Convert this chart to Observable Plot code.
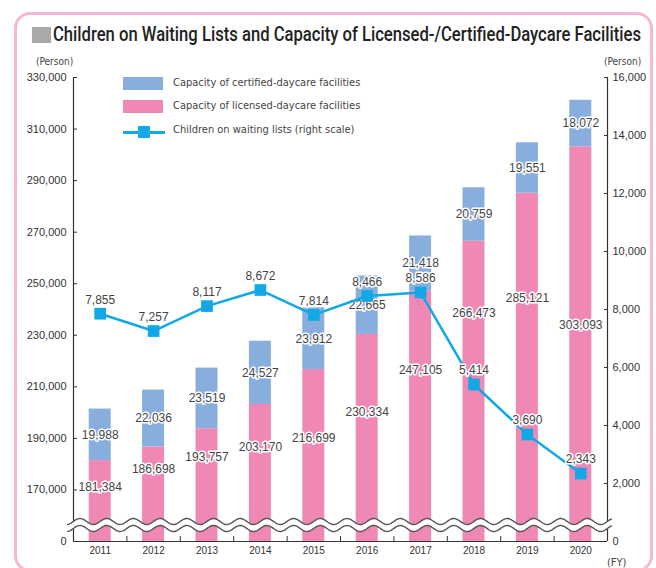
<!DOCTYPE html>
<html>
<head>
<meta charset="utf-8">
<script src="https://cdn.jsdelivr.net/npm/d3@7"></script>
<script src="https://cdn.jsdelivr.net/npm/@observablehq/plot@0.6"></script>
<style>
  body { margin: 0; background: #fff; }
  #wrap { position: relative; width: 656px; height: 568px; overflow: hidden; background: #fff;
          font-family: "Liberation Sans Narrow", "Arial Narrow", "DejaVu Sans Condensed", sans-serif; color: #333; }
  #chart { position: absolute; left: 0; top: 0; }
  #frame { position: absolute; left: 14px; top: 12px; width: 639px; height: 560px; border: 3px solid #f6b8d5;
           border-radius: 16px; box-sizing: border-box; pointer-events: none; }
  #sq { position: absolute; left: 32px; top: 27px; width: 19px; height: 16px; background: #a9a9ab; }
  #title { position: absolute; left: 53px; top: 22px; font-size: 21px; line-height: 24px; color: #222; white-space: nowrap;
           font-family: Roboto, "DejaVu Sans Condensed", sans-serif; font-weight: 500; transform-origin: 0 0; }
  .unit { position: absolute; font-size: 10px; color: #444; white-space: nowrap; }
  .leg { position: absolute; font-size: 11px; color: #444; white-space: nowrap; }
  .sw { position: absolute; }
</style>
</head>
<body>
<div id="wrap">
  <div id="chart"></div>
  <div id="sq"></div>
  <div id="title">Children on Waiting Lists and Capacity of Licensed-/Certified-Daycare Facilities</div>
  <div class="unit" style="left:36px;top:56px;">(Person)</div>
  <div class="unit" style="left:604px;top:56px;">(Person)</div>
  <div class="unit" style="left:607px;top:556px;font-size:11px;">(FY)</div>

  <div class="sw" style="left:123px;top:77px;width:40px;height:13px;background:#87aedd;"></div>
  <div class="leg" style="left:173px;top:76px;">Capacity of certified-daycare facilities</div>
  <div class="sw" style="left:123px;top:100px;width:40px;height:13px;background:#f088b5;"></div>
  <div class="leg" style="left:173px;top:99px;">Capacity of licensed-daycare facilities</div>
  <div class="sw" style="left:123px;top:131px;width:42px;height:2.5px;background:#12a8e6;"></div>
  <div class="sw" style="left:138px;top:126px;width:12px;height:12px;background:#12a8e6;"></div>
  <div class="leg" style="left:173px;top:123px;">Children on waiting lists (right scale)</div>

  <div id="frame"></div>
</div>
<script>
const years = [2011, 2012, 2013, 2014, 2015, 2016, 2017, 2018, 2019, 2020];
const licensed = [181384, 186698, 193757, 203170, 216699, 230334, 247105, 266473, 285121, 303093];
const certified = [19988, 22036, 23519, 24527, 23912, 22665, 21418, 20759, 19551, 18072];
const waiting = [7855, 7257, 8117, 8672, 7814, 8466, 8586, 5414, 3690, 2343];
const leftTickLabels = [0, 170000, 190000, 210000, 230000, 250000, 270000, 290000, 310000, 330000];
const rightTickLabels = [0, 2000, 4000, 6000, 8000, 10000, 12000, 14000, 16000];

// fit the condensed title to the reference width
const title = document.getElementById("title");
const tw = title.getBoundingClientRect().width;
title.style.transform = `scaleX(${588 / tw})`;

const W = 656, H = 568, mL = 73, mR = 49, mT = 77, mB = 27;
const BASE = 150000, TOP = 330000;          // broken left axis: "0" sits one step below 170,000
const K = (TOP - BASE) / 16000;            // right scale (0–16,000) onto left scale
const unitsPerPx = (TOP - BASE) / (H - mT - mB);
const fmt = d3.format(",");

const rows = years.map((year, i) => ({
  year, lic: licensed[i], cert: certified[i], top: licensed[i] + certified[i],
  wait: waiting[i], waitY: BASE + waiting[i] * K
}));

// hand placement nudges (px) of licensed labels, as in the original artwork
const licNudge = [12, 1, -2, 0, 8, 0, -20, -52, -43, 7];
const half = 0.206;
const bounds = years.slice(0, -1).map(y => y + 0.5);
const leftVals = leftTickLabels.map(v => v === 0 ? BASE : v);
const rightVals = rightTickLabels.map(v => BASE + v * K);
const noText = () => "";

const plot = Plot.plot({
  width: W, height: H,
  marginLeft: mL, marginRight: mR, marginTop: mT, marginBottom: mB,
  style: { background: "transparent", fontFamily: "'Liberation Sans', Arial, sans-serif", overflow: "visible" },
  x: { type: "linear", domain: [2010.5, 2020.5], axis: null },
  y: { domain: [BASE, TOP], axis: null },
  marks: [
    Plot.rect(rows, { x1: d => d.year - half, x2: d => d.year + half, y1: BASE, y2: "lic", fill: "#f088b5" }),
    Plot.rect(rows, { x1: d => d.year - half, x2: d => d.year + half, y1: "lic", y2: "top", fill: "#87aedd" }),
    Plot.ruleX([2010.5, 2020.5], { y1: BASE, y2: TOP, stroke: "#333", strokeWidth: 1.2 }),
    Plot.ruleY([BASE], { x1: 2010.5, x2: 2020.5, stroke: "#333", strokeWidth: 1.2 }),
    Plot.axisX({ ticks: bounds, tickSize: 5, dy: -5, stroke: "#333", tickFormat: noText, label: null }),
    Plot.axisX({ ticks: years, tickSize: 0, tickPadding: 5, tickFormat: d => String(d), fontSize: 10, color: "#333", label: null }),
    Plot.axisY({ anchor: "left", ticks: leftVals.filter(v => v !== BASE), tickSize: 4, dx: 4, stroke: "#333", tickFormat: noText, label: null }),
    Plot.axisY({ anchor: "left", ticks: leftVals, tickSize: 0, tickPadding: 7, fontSize: 11, color: "#333", label: null,
      tickFormat: d => d === BASE ? "0" : fmt(d) }),
    Plot.axisY({ anchor: "right", ticks: rightVals.filter(v => v !== BASE), tickSize: 4, dx: -4, stroke: "#333", tickFormat: noText, label: null }),
    Plot.axisY({ anchor: "right", ticks: rightVals, tickSize: 0, tickPadding: 5, fontSize: 11, color: "#333", label: null,
      tickFormat: d => fmt(Math.round((d - BASE) / K)) }),
    Plot.text(rows, { x: "year", y: d => d.lic + d.cert / 2, text: d => fmt(d.cert),
      fontSize: 12, fill: "#444", stroke: "white", strokeWidth: 3 }),
    Plot.text(rows, { x: "year", y: (d, i) => (d.lic + 170000) / 2 - licNudge[i] * unitsPerPx, text: d => fmt(d.lic),
      fontSize: 12, fill: "#444", stroke: "white", strokeWidth: 3 }),
    Plot.line(rows, { x: "year", y: "waitY", stroke: "#12a8e6", strokeWidth: 2.5 }),
    Plot.dot(rows, { x: "year", y: "waitY", symbol: "square", r: 6.6, fill: "#12a8e6", stroke: "none" }),
    Plot.text(rows, { x: "year", y: "waitY", dy: -14, text: d => fmt(d.wait),
      fontSize: 12, fill: "#444", stroke: "white", strokeWidth: 3 })
  ]
});
document.getElementById("chart").appendChild(plot);

// axis-break wave drawn over the bars
const ys = plot.scale("y");
const yc = ys.apply(BASE + 16 * unitsPerPx);
const P = 26.7, A = 3, gap = 7, x0 = 67, x1 = 612;
const wave = (off) => d3.range(x0, x1 + 0.5, 1).map(x => [x, yc + off - A * Math.cos(2 * Math.PI * (x - 80) / P)]);
const upper = wave(-gap / 2), lower = wave(gap / 2);
const svg = d3.select(plot);
svg.append("path")
  .attr("d", d3.line()(upper) + "L" + d3.line()(lower.slice().reverse()).slice(1) + "Z")
  .attr("fill", "white");
[upper, lower].forEach(pts => svg.append("path").attr("d", d3.line()(pts))
  .attr("fill", "none").attr("stroke", "#555").attr("stroke-width", 1.4));
</script>
</body>
</html>
